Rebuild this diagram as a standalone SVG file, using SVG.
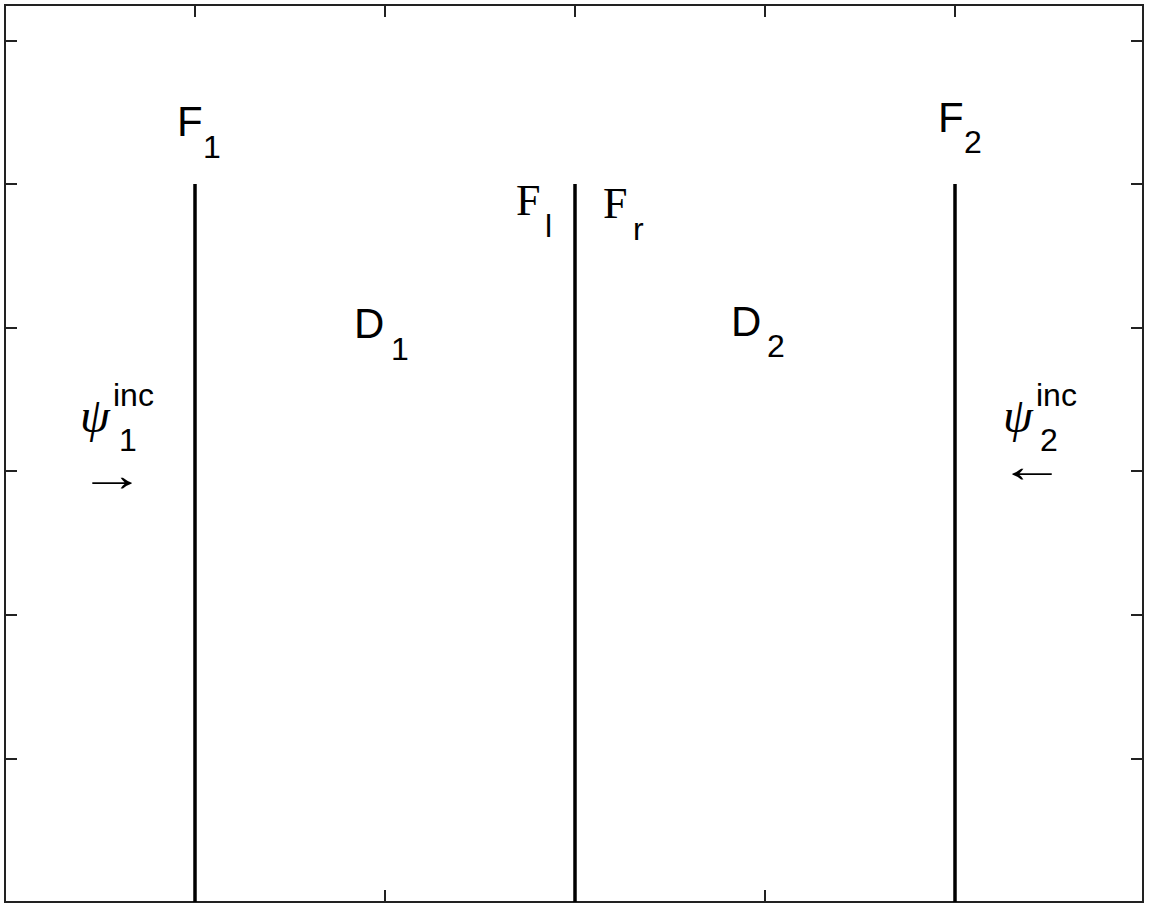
<svg xmlns="http://www.w3.org/2000/svg" width="1151" height="908" viewBox="0 0 1151 908">
<style>
.frame{fill:none;stroke:#222;stroke-width:2}
.tick{stroke:#222;stroke-width:2}
.wall{stroke:#000;stroke-width:3.5}
.s{font-family:"Liberation Sans",Arial,sans-serif;fill:#000}
.m{font-size:42px}
.sub{font-size:32px}
.serif{font-family:"Liberation Serif","Times New Roman",serif;fill:#000}
.arr{font-family:"Liberation Serif","Times New Roman",serif;font-size:46px;fill:#000}
</style>
<rect width="1151" height="908" fill="#fff"/>
<g id="frame">
<rect class="frame" x="5" y="5" width="1138" height="897"/>
<path class="tick" d="M5 41h12M5 184h12M5 328h12M5 471h12M5 615h12M5 759h12M1143 41h-12M1143 184h-12M1143 328h-12M1143 471h-12M1143 615h-12M1143 759h-12M195 5v12M385 5v12M575 5v12M765 5v12M955 5v12M195 902v-12M385 902v-12M575 902v-12M765 902v-12M955 902v-12"/>
</g>
<g id="connectors">
<line class="wall" x1="195" y1="184" x2="195" y2="902"/>
<line class="wall" x1="575" y1="184" x2="575" y2="902"/>
<line class="wall" x1="955" y1="184" x2="955" y2="902"/>
</g>
<g id="F1"><text class="s m" x="177" y="136">F</text><text class="s sub" x="203" y="158">1</text></g>
<g id="F2"><text class="s m" x="938" y="132">F</text><text class="s sub" x="964" y="153">2</text></g>
<g id="Fl"><text class="serif" font-size="44" x="516" y="215">F</text><text class="s sub" x="545" y="237">l</text></g>
<g id="Fr"><text class="serif" font-size="44" x="603" y="218">F</text><text class="s sub" x="633" y="240">r</text></g>
<g id="D1"><text class="s m" x="354" y="338">D</text><text class="s sub" x="391" y="360">1</text></g>
<g id="D2"><text class="s m" x="731" y="336">D</text><text class="s sub" x="767" y="357">2</text></g>
<g id="psi1"><text class="serif" font-style="italic" font-size="48" x="80" y="432">ψ</text><text class="s sub" x="113" y="406">inc</text><text class="s sub" x="119" y="451">1</text><text class="arr" transform="translate(79 491) scale(1.45 1)">→</text></g>
<g id="psi2"><text class="serif" font-style="italic" font-size="48" x="1003" y="432">ψ</text><text class="s sub" x="1036" y="406">inc</text><text class="s sub" x="1040" y="451">2</text><text class="arr" transform="translate(999 482) scale(1.45 1)">←</text></g>
</svg>
